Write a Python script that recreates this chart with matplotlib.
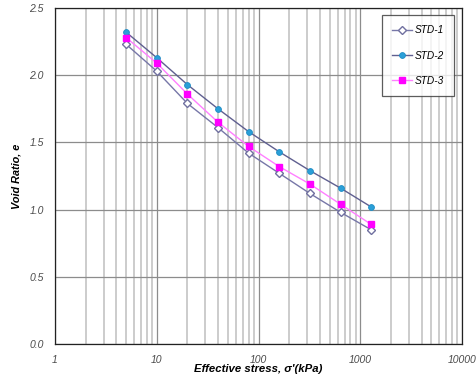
import matplotlib
matplotlib.use("Agg")
import matplotlib.pyplot as plt
from matplotlib.ticker import FixedLocator, FormatStrFormatter, NullFormatter

plt.rcParams['font.family'] = ['Liberation Sans', 'DejaVu Sans']

# effective stress (kPa) and void ratios
stress = [5, 10, 20, 40, 80, 160, 320, 640, 1280]
std1 = [2.23, 2.03, 1.79, 1.61, 1.42, 1.27, 1.12, 0.98, 0.85]
std2 = [2.32, 2.13, 1.93, 1.75, 1.58, 1.43, 1.29, 1.16, 1.02]
std3 = [2.28, 2.09, 1.86, 1.65, 1.47, 1.32, 1.19, 1.04, 0.89]

x_ticks = [1, 10, 100, 1000, 10000]
y_ticks = [0.0, 0.5, 1.0, 1.5, 2.0, 2.5]

fig = plt.figure(figsize=(4.77, 3.78), dpi=100)
ax = fig.add_axes([0.1153, 0.0899, 0.8533, 0.8889])

ax.set_xscale('log')
ax.set_xlim(1, 10000)
ax.set_ylim(0, 2.5)

# grid: light thick minors, darker thin majors
minors = [m * 10 ** d for d in range(4) for m in range(2, 10)]
ax.xaxis.set_minor_locator(FixedLocator(minors))
ax.xaxis.set_minor_formatter(NullFormatter())
ax.set_xticks(x_ticks)
ax.set_xticklabels([str(t) for t in x_ticks])
ax.set_yticks(y_ticks)
ax.yaxis.set_major_formatter(FormatStrFormatter('%.1f'))
ax.grid(True, which='minor', axis='x', color='#cccccc', lw=1.4)
ax.grid(True, which='major', axis='x', color='#8c8c8c', lw=0.9)
ax.grid(True, which='major', axis='y', color='#8c8c8c', lw=0.9)
ax.set_axisbelow(True)

ax.tick_params(which='both', length=0, pad=8, labelsize=7.5, colors='#4a4a4a')
for lab in ax.get_xticklabels() + ax.get_yticklabels():
    lab.set_fontstyle('italic')

ax.plot(stress, std1, color='#7777a8', lw=1.0, marker='D', ms=4,
        mfc='white', mec='#7070a0', mew=1.0, label='STD-1')
ax.plot(stress, std2, color='#5f5f90', lw=1.0, marker='o', ms=4.2,
        mfc='#2a9fd8', mec='#1e8cc4', mew=0.6, label='STD-2')
ax.plot(stress, std3, color='#ff7fff', lw=1.0, marker='s', ms=4.3,
        mfc='#ff00ff', mec='#ff00ff', label='STD-3')

for sp in ax.spines.values():
    sp.set_color('#222222')
    sp.set_linewidth(0.9)

ax.set_xlabel("Effective stress, σ'(kPa)", fontsize=8.2, fontweight='bold',
              fontstyle='italic', labelpad=-1)
ax.set_ylabel('Void Ratio, e', fontsize=7.8, fontweight='bold',
              fontstyle='italic', labelpad=6)

leg = ax.legend(loc='upper right', bbox_to_anchor=(0.9805, 0.9785),
                frameon=True, fancybox=False, fontsize=7.3, handlelength=1.9,
                labelspacing=1.5, borderpad=1.0, handletextpad=0.3,
                borderaxespad=0)
leg.get_frame().set_edgecolor('#333333')
leg.get_frame().set_linewidth(0.9)
for t in leg.get_texts():
    t.set_fontstyle('italic')

fig.savefig('out.png', dpi=100)
